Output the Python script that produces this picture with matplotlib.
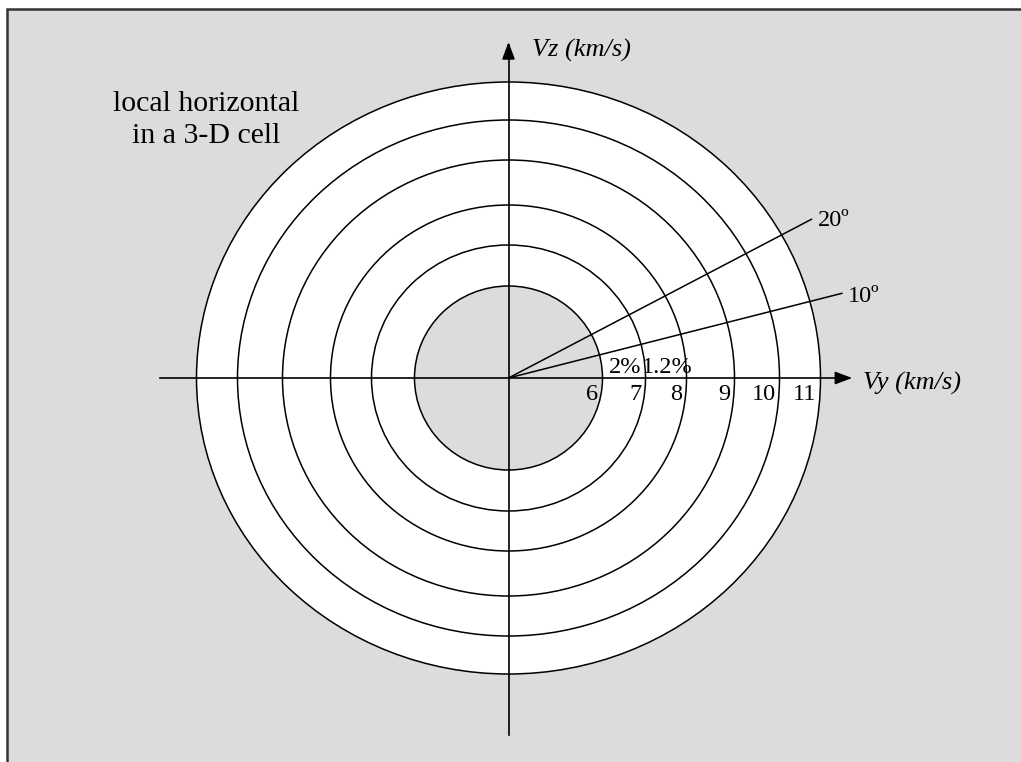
import numpy as np
import matplotlib
matplotlib.use('Agg')
import matplotlib.pyplot as plt
from matplotlib.patches import Ellipse, Rectangle

plt.rcParams['font.family'] = ['Liberation Serif', 'DejaVu Serif']

# speed rings (km/s) and their drawn half-widths / half-heights
ring_speeds = [6, 7, 8, 9, 10, 11]
ring_rx = [94, 137, 178, 226, 271, 312]
ring_ry = [92, 133, 173, 218, 258, 296]

# percentages written between the inner rings
ring_notes = ['2%', '1.2%']

# angle lines: label and drawn direction / length
angle_labels = ['20º', '10º']
angle_draw = [27.65, 14.25]
angle_len = [342, 344]

gray = '#dcdcdc'

fig = plt.figure(figsize=(10.21, 7.62), dpi=100)
fig.patch.set_facecolor('white')
ax = fig.add_axes([0, 0, 1, 1])
ax.set_xlim(-508.5, 512.5)
ax.set_ylim(-384, 378)
ax.axis('off')

ax.add_patch(Rectangle((-501.5, -420), 1100, 789, facecolor=gray,
                       edgecolor='#333333', linewidth=1.8, zorder=0))

# filled discs: all white except the inner one
ax.add_patch(Ellipse((0, 0), 2 * ring_rx[-1], 2 * ring_ry[-1],
                     facecolor='white', edgecolor='none', zorder=1))
ax.add_patch(Ellipse((0, 0), 2 * ring_rx[0], 2 * ring_ry[0],
                     facecolor=gray, edgecolor='none', zorder=2))
for rx, ry in zip(ring_rx, ring_ry):
    ax.add_patch(Ellipse((0, 0), 2 * rx, 2 * ry, facecolor='none',
                         edgecolor='black', linewidth=1.1, zorder=3))

# axes with arrows
arrow = dict(arrowstyle='-|>,head_length=0.8,head_width=0.3',
             color='black', lw=1.2, mutation_scale=13)
ax.plot([-348.5, 340], [0, 0], color='black', lw=1.2, zorder=4)
ax.plot([0, 0], [-357, 333], color='black', lw=1.2, zorder=4)
ax.annotate('', xy=(346.5, 0), xytext=(330, 0), arrowprops=arrow, zorder=5)
ax.annotate('', xy=(0, 338.7), xytext=(0, 322), arrowprops=arrow, zorder=5)

# angle lines
for lab, a, L, tx, ty in zip(angle_labels, angle_draw, angle_len, [309.8, 339.8], [157, 82]):
    t = np.radians(a)
    ax.plot([0, L * np.cos(t)], [0, L * np.sin(t)], color='black', lw=1.1, zorder=4)
    ax.text(tx, ty, lab, fontsize=17.5, ha='left', va='center', zorder=6)

# ring labels on the Vy axis
for v, rx in zip(ring_speeds, ring_rx):
    ax.text(rx - 4, -6, str(v), fontsize=17.5, ha='right', va='top', zorder=6)

for i, note in enumerate(ring_notes):
    mid = (ring_rx[i] + ring_rx[i + 1]) / 2
    ax.text(mid + 1, 5, note, fontsize=17.5, ha='center', va='baseline', zorder=6)

ax.text(23, 328, 'Vz (km/s)', fontsize=19, style='italic', ha='left', va='center', zorder=6)
ax.text(354, -5, 'Vy (km/s)', fontsize=19, style='italic', ha='left', va='center', zorder=6)

ax.text(-302.5, 258, 'local horizontal\nin a 3-D cell', fontsize=21.5,
        ha='center', va='center', linespacing=1.3, zorder=6)

fig.savefig('out.png', dpi=100, facecolor=fig.get_facecolor())
